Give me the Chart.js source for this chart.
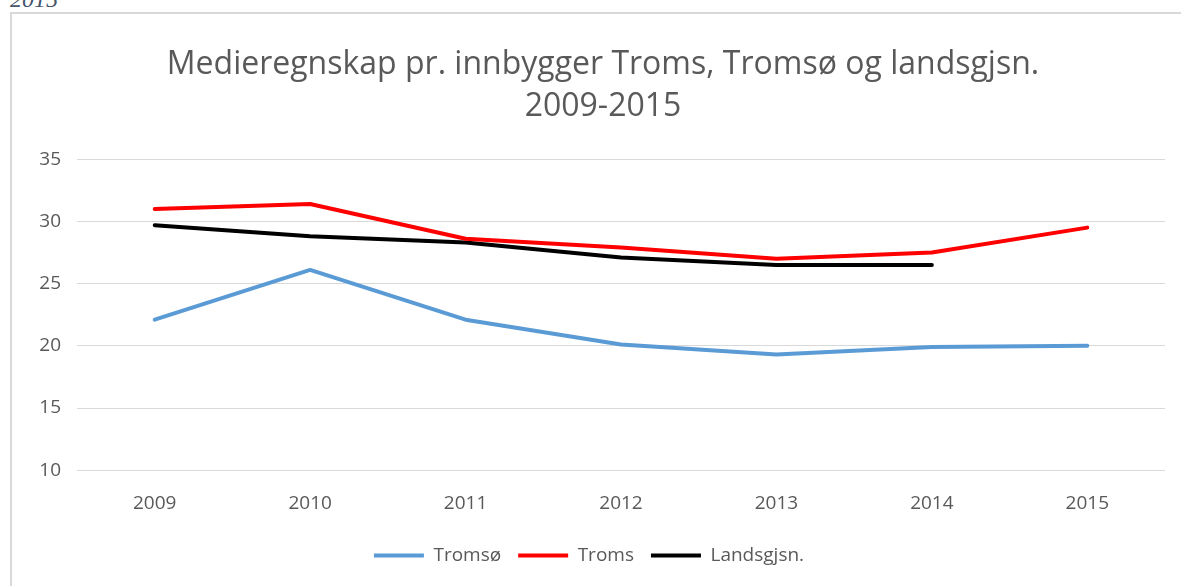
<!DOCTYPE html>
<html>
<head>
<meta charset="utf-8">
<script src="https://cdn.jsdelivr.net/npm/chart.js@4"></script>
<style>
  html, body { margin: 0; padding: 0; background: #fff; overflow: hidden; }
  #cap {
    position: absolute; left: 10px; top: -14px;
    font-family: "Liberation Serif", serif; font-style: italic;
    font-size: 24px; color: #44546a;
  }
  #frame {
    position: absolute; left: 10px; top: 12px; width: 1200px; height: 600px;
    border: 2px solid #d9d9d9; box-sizing: border-box;
  }
  #wrap { position: absolute; left: 0; top: 0; width: 1181px; height: 586px; }
</style>
</head>
<body>
<div id="cap">2015</div>
<div id="frame"></div>
<div id="wrap"><canvas id="linechart"></canvas></div>
<script>
const years = ["2009", "2010", "2011", "2012", "2013", "2014", "2015"];
const tromso = [22.1, 26.1, 22.1, 20.1, 19.3, 19.9, 20.0];
const troms = [31.0, 31.4, 28.6, 27.9, 27.0, 27.5, 29.5];
const landsgjsn = [29.7, 28.8, 28.3, 27.1, 26.5, 26.5, null];

const font = "'Open Sans', sans-serif";
const lctx = document.getElementById("linechart");

// the title sits a little right of the chart's centre in the original
const nudgeTitle = {
  id: "nudgeTitle",
  afterLayout(chart) {
    if (chart.titleBlock) {
      chart.titleBlock.left += 14;
      chart.titleBlock.right += 14;
    }
  },
};

new Chart(lctx, {
  type: "line",
  data: {
    labels: years,
    datasets: [
      { label: "Tromsø", data: tromso, borderColor: "#5b9bd5", backgroundColor: "#5b9bd5" },
      { label: "Troms", data: troms, borderColor: "#ff0000", backgroundColor: "#ff0000" },
      { label: "Landsgjsn.", data: landsgjsn, borderColor: "#000000", backgroundColor: "#000000" },
    ],
  },
  options: {
    responsive: true,
    maintainAspectRatio: false,
    animation: false,
    layout: { padding: { left: 13, right: 16, top: 44, bottom: 11 } },
    elements: {
      line: { borderWidth: 4, tension: 0, borderCapStyle: "round", borderJoinStyle: "round" },
      point: { radius: 0, borderWidth: 4 },
    },
    plugins: {
      title: {
        display: true,
        text: ["Medieregnskap pr. innbygger Troms, Tromsø og landsgjsn.", "2009-2015"],
        color: "#595959",
        font: { family: font, size: 32, weight: "normal", lineHeight: 1.3 },
        padding: { top: 0, bottom: 32 },
      },
      legend: {
        position: "bottom",
        labels: {
          color: "#595959",
          font: { family: font, size: 19 },
          usePointStyle: true,
          pointStyle: "line",
          pointStyleWidth: 50,
          padding: 17,
        },
      },
      tooltip: { enabled: false },
    },
    scales: {
      x: {
        offset: true,
        grid: { display: false },
        border: { display: false },
        ticks: { color: "#595959", font: { family: font, size: 19 }, padding: 14 },
      },
      y: {
        min: 10,
        max: 35,
        afterFit: (s) => { s.width = 64; },
        grid: { color: "#d9d9d9", lineWidth: 1, drawTicks: false },
        border: { display: false },
        ticks: { stepSize: 5, color: "#595959", font: { family: font, size: 19 }, padding: 16 },
      },
    },
  },
  plugins: [nudgeTitle],
});
</script>
</body>
</html>
